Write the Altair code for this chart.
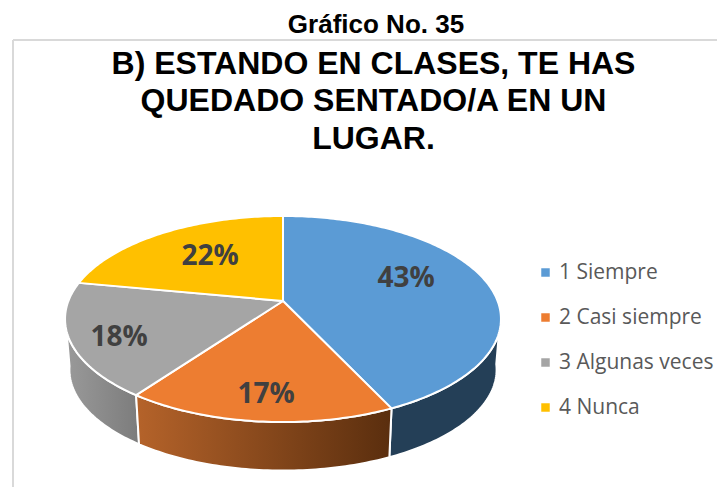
import math
import altair as alt
import pandas as pd

CATEGORIES = ["1 Siempre", "2 Casi siempre", "3 Algunas veces", "4 Nunca"]
SHARES = [43, 17, 18, 22]
PERCENT_LABELS = ["43%", "17%", "18%", "22%"]
COLORS = ["#5B9BD5", "#ED7D31", "#A5A5A5", "#FFC000"]

W, H = 709, 479
CX, CY = 275.0, 293.0      # pie apex in chart pixels
SX, SY = 214.6, 99.9       # horizontal / vertical radius of the projection
K = 0.1747                 # perspective factor
LOW_S, LOW_DY = 0.98, 51.0 / SY


def project(theta_deg, r=1.0):
    t = math.radians(theta_deg)
    u, v = r * math.sin(t), r * math.cos(t)
    d = 1 + K * v
    return u / d, v / d


def rim(a, b, low=False):
    n = max(2, int(abs(b - a)) + 1)
    pts = []
    for i in range(n + 1):
        x, y = project(a + (b - a) * i / n)
        if low:
            x, y = x * LOW_S, y * LOW_S - LOW_DY
        pts.append((x, y))
    return pts


edges = [0.0]
for s in SHARES:
    edges.append(edges[-1] + s / sum(SHARES) * 360.0)

top_rows = []
for c, a, b in zip(CATEGORIES, edges[:-1], edges[1:]):
    pts = [(0.0, 0.0)] + rim(a, b) + [(0.0, 0.0)]
    top_rows += [{"cat": c, "i": i, "x": x, "y": y} for i, (x, y) in enumerate(pts)]
top = pd.DataFrame(top_rows)


def wall(a, b):
    pts = rim(a, b) + rim(a, b, True)[::-1]
    pts.append(pts[0])
    return pd.DataFrame([{"i": i, "x": x, "y": y} for i, (x, y) in enumerate(pts)])


xs = alt.Scale(domain=[-CX / SX, (W - CX) / SX], range=[0, W], nice=False, zero=False)
ys = alt.Scale(domain=[(CY - H) / SY, CY / SY], range=[H, 0], nice=False, zero=False)
X = alt.X("x:Q", scale=xs, axis=None)
Y = alt.Y("y:Q", scale=ys, axis=None)
ORDER = alt.Order("i:Q")


def grad(c0, c1):
    return alt.Gradient(gradient="linear", x1=0, x2=1, y1=0, y2=0,
                        stops=[alt.GradientStop(color=c0, offset=0),
                               alt.GradientStop(color=c1, offset=1)])


def wall_layer(a, b, fill):
    return alt.Chart(wall(a, b)).mark_line(fill=fill, stroke="white", strokeWidth=2, strokeJoin="round").encode(
        x=X, y=Y, order=ORDER)


walls = [
    wall_layer(97, edges[1], "#243F57"),
    wall_layer(edges[2], 262, grad("#9A9A9A", "#7C7C7C")),
    wall_layer(edges[1], edges[2], grad("#B5632A", "#5A2E0E")),
]

tops = alt.Chart(top).mark_line(stroke="white", strokeWidth=2, strokeJoin="round").encode(
    x=X, y=Y, order=ORDER,
    fill=alt.Fill("cat:N", scale=alt.Scale(domain=CATEGORIES, range=COLORS),
                  legend=alt.Legend(orient="none", legendX=527, legendY=254, title=None,
                                    symbolType="square", symbolSize=72, symbolStrokeWidth=0,
                                    labelFont="Open Sans", labelFontSize=21, labelColor="#595959",
                                    labelOffset=3, rowPadding=23, labelLimit=300)),
)


def text(s, px, py, size, font, color, weight="bold"):
    return alt.Chart(pd.DataFrame({"t": [s]})).mark_text(
        font=font, fontSize=size, fontWeight=weight, color=color, align="center", baseline="alphabetic"
    ).encode(text="t:N", x=alt.value(px - 8), y=alt.value(py - 8))


LABEL_POS = [(406, 287), (266, 403), (119, 346), (210, 265)]
labels = [text(t, x, y, 28, "Open Sans", "#404040") for t, (x, y) in zip(PERCENT_LABELS, LABEL_POS)]

titles = [
    text("Gráfico No. 35", 376, 33, 26, "Liberation Sans", "#000000"),
    text("B) ESTANDO EN CLASES, TE HAS", 373.5, 74, 32, "Liberation Sans", "#000000"),
    text("QUEDADO SENTADO/A EN UN", 373.5, 111, 32, "Liberation Sans", "#000000"),
    text("LUGAR.", 373.5, 149, 32, "Liberation Sans", "#000000"),
]

frame_df = pd.DataFrame({"a": [0]})
frame = [
    alt.Chart(frame_df).mark_rule(color="#D9D9D9", strokeWidth=2).encode(
        x=alt.value(5), x2=alt.value(W), y=alt.value(32)),
    alt.Chart(frame_df).mark_rule(color="#D9D9D9", strokeWidth=2).encode(
        x=alt.value(5), y=alt.value(32), y2=alt.value(H)),
]

chart = alt.layer(*frame, *walls, tops, *labels, *titles).properties(
    width=W, height=H, padding=0, autosize=alt.AutoSizeParams(type="none"),
    background="white",
).configure_view(stroke=None)

chart.save("out.html", embed_options={"renderer": "svg", "actions": False})
